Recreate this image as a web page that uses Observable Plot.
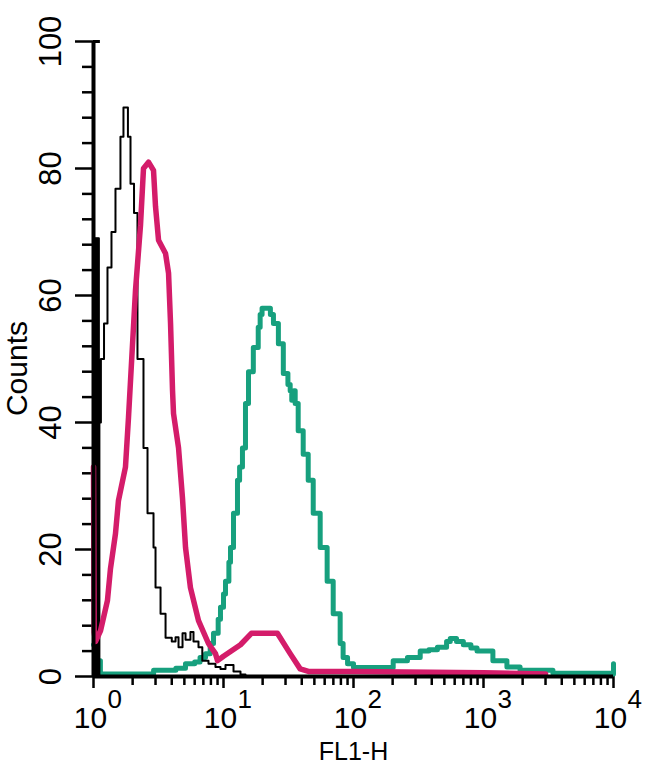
<!DOCTYPE html>
<html>
<head>
<meta charset="utf-8">
<script src="https://cdn.jsdelivr.net/npm/d3@7"></script>
<script src="https://cdn.jsdelivr.net/npm/@observablehq/plot@0.6"></script>
<style>
  html, body { margin: 0; padding: 0; background: #fff; }
  svg { display: block; }
</style>
</head>
<body>
<div id="chart"></div>
<script>
// ---- data (FL1-H value, counts) ----
const blackX = [1.0, 1.10, 1.14, 1.205, 1.281, 1.375, 1.476, 1.612, 1.70, 1.84, 1.926, 2.05, 2.179, 2.424, 2.603, 2.895, 3.0, 3.279, 3.583, 4.0, 4.276, 4.509, 4.84, 5.105, 5.568, 5.878, 6.422, 6.87, 7.664, 8.674, 9.478, 10.36, 11.94, 13.51, 14.76, 16.0];
const blackY = [69, 40, 50, 55.6, 64.4, 70, 76.8, 85, 89.6, 85, 77.6, 73, 50, 36, 25.7, 20.3, 14, 9.9, 6.1, 5.5, 6.2, 4.6, 6.8, 5.8, 7, 5.5, 4.6, 2.5, 2, 1.5, 1.2, 1.8, 0.8, 0.3, 0, 0];

const pinkX = [1.0, 1.012, 1.036, 1.132, 1.281, 1.351, 1.476, 1.556, 1.762, 1.859, 2.104, 2.298, 2.424, 2.65, 2.895, 3.0, 3.165, 3.583, 3.779, 3.914, 4.055, 4.127, 4.509, 4.84, 5.105, 5.568, 6.422, 7.664, 8.674, 9.0, 10.0, 13.51, 16.38, 25.98, 32.58, 38.89, 45, 100, 1000, 3000];
const pinkY = [33, 7, 5.5, 7.2, 12, 17, 22.5, 27.7, 33, 40.8, 60.8, 71, 80, 81, 79.7, 74, 68.7, 66.6, 63.5, 55.6, 45, 41.4, 36, 28, 20.3, 14, 8.8, 5.2, 3.6, 2.5, 3.2, 5, 6.8, 6.8, 3.6, 1.2, 0.8, 0.8, 0.6, 0.4];

const tealX = [1.0, 1.05, 1.13, 2.6, 2.9, 4.3, 5.1, 6.0, 6.6, 7.27, 7.9, 8.38, 9.1, 9.478, 10.0, 10.36, 11.0, 11.32, 11.94, 12.81, 13.3, 13.99, 14.76, 15.57, 16.96, 18.5, 19.14, 19.8, 22.0, 22.95, 24.22, 26.44, 28.85, 31.3, 32.58, 33.5, 34.8, 35.6, 37.55, 41.03, 44.84, 49.0, 55.43, 62.7, 69.8, 78.96, 83.2, 90, 100, 192, 202, 230, 260, 326, 380, 442, 520, 555, 620, 700, 800, 892, 1120, 1181, 1514, 1911, 2600, 3420, 9476, 10000];
const tealY = [5, 2.5, 0.4, 0.4, 1, 1.3, 2, 2.3, 3, 3.6, 5.2, 6.8, 9, 10.9, 13, 15, 18, 20.3, 25.7, 30.9, 33, 36, 43, 48, 51.8, 55, 57, 58, 58, 57, 55.6, 52.4, 47.7, 46, 45, 43.5, 45, 43, 38.7, 35, 30.9, 25.7, 20.3, 15, 9.9, 5.2, 3, 2, 1.4, 1.4, 2.5, 2.5, 3, 4, 4.2, 4.6, 5.5, 6, 5.5, 5, 4.5, 4, 4, 2.5, 1.5, 1, 1, 0.5, 0.4, 2];

const yMajor = [0, 20, 40, 60, 80, 100];
const yMinor = [4, 8, 12, 16, 24, 28, 32, 36, 44, 48, 52, 56, 64, 68, 72, 76, 84, 88, 92, 96];
const xMajor = [1, 10, 100, 1000, 10000];
const xExp = ["0", "1", "2", "3", "4"];
const xMinor = [2,3,4,5,6,7,8,9,20,30,40,50,60,70,80,90,200,300,400,500,600,700,800,900,2000,3000,4000,5000,6000,7000,8000,9000];

const xLabel = "FL1-H";
const yLabel = "Counts";

const toRows = (xs, ys) => xs.map((x, i) => ({x, y: ys[i]}));
const black = toRows(blackX, blackY);
const pink = toRows(pinkX, pinkY);
const teal = toRows(tealX, tealY);
const blackEdge = black.slice(0, 3); // dense first channels drawn as a solid block

const FONT = "'Liberation Sans Narrow', 'Arial Narrow', 'Liberation Sans', Arial, sans-serif";

const chart = Plot.plot({
  width: 650,
  height: 764,
  marginLeft: 93,
  marginRight: 37,
  marginTop: 41,
  marginBottom: 88,
  style: {fontFamily: FONT, background: "#fff", color: "#000"},
  x: {type: "log", domain: [1, 10000], label: null},
  y: {domain: [0, 100], label: null},
  marks: [
    // minor/major ticks
    Plot.axisY({ticks: yMinor, tickSize: 11, tickFormat: () => "", strokeWidth: 2.5, label: null}),
    Plot.axisY({ticks: yMajor, tickSize: 18, tickFormat: () => "", strokeWidth: 2.5, label: null}),
    Plot.axisX({ticks: xMinor, tickSize: 9, tickFormat: () => "", strokeWidth: 2.5, label: null}),
    Plot.axisX({ticks: xMajor, tickSize: 12, tickFormat: () => "", strokeWidth: 2.5, label: null}),
    // curves
    Plot.line(teal, {x: "x", y: "y", stroke: "#17a07e", strokeWidth: 5, curve: "step-after"}),
    Plot.areaY(blackEdge, {x: "x", y: "y", fill: "#000", curve: "step-after"}),
    Plot.line(black, {x: "x", y: "y", stroke: "#000", strokeWidth: 2, curve: "step-after"}),
    Plot.line(pink, {x: "x", y: "y", stroke: "#d41c6a", strokeWidth: 5.5, curve: "linear", strokeLinejoin: "round"}),
    // axis lines
    Plot.ruleX([1], {y1: 0, y2: 100, strokeWidth: 4}),
    Plot.ruleY([0], {x1: 1, x2: 10000, strokeWidth: 4}),
    Plot.ruleY([100], {x1: 1, x2: 1.13, strokeWidth: 3}),
    // y tick labels
    Plot.text(yMajor, {x: 1, y: d => d, text: d => String(d), rotate: -90, dx: -42, textAnchor: "middle", lineAnchor: "middle", fontSize: 31, fill: "#000"}),
    // x tick labels
    Plot.text(xMajor, {x: d => d, y: 0, text: () => "10", dx: -3, dy: 42, textAnchor: "middle", lineAnchor: "middle", fontSize: 30, fill: "#000"}),
    Plot.text(xMajor, {x: d => d, y: 0, text: (d, i) => xExp[i], dx: 14, dy: 23, textAnchor: "start", lineAnchor: "middle", fontSize: 26, fill: "#000"}),
    // axis titles
    Plot.text([yLabel], {x: 1, y: 48.5, text: d => d, rotate: -90, dx: -76, textAnchor: "middle", lineAnchor: "middle", fontSize: 30, fill: "#000"}),
    Plot.text([xLabel], {frameAnchor: "bottom", text: d => d, dy: 75, textAnchor: "middle", lineAnchor: "middle", fontSize: 25, fill: "#000"})
  ]
});
document.getElementById("chart").appendChild(chart);
</script>
</body>
</html>
